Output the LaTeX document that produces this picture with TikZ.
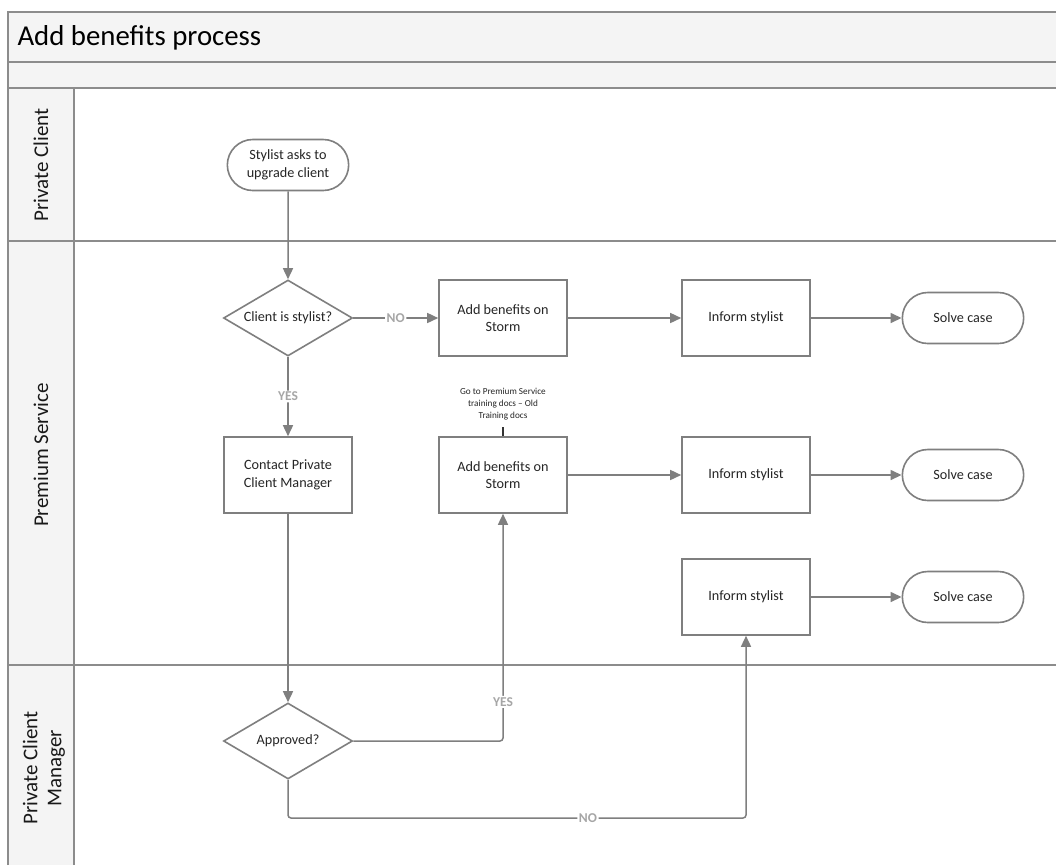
\documentclass[tikz,border=0pt]{standalone}
\usepackage{fontspec}
\setmainfont{Carlito}
\usetikzlibrary{shapes.geometric,shapes.misc,arrows.meta}
\definecolor{frame}{HTML}{8C8C8C}
\definecolor{band}{HTML}{F4F4F4}
\definecolor{flow}{HTML}{7F7F7F}
\definecolor{lbl}{HTML}{A6A6A6}
\tikzset{
  lane/.style={draw=frame,line width=1.8pt},
  boxfont/.style={font=\fontsize{14.2}{17.5}\selectfont,text=black!85},
  proc/.style={draw=flow,line width=1.6pt,fill=white,minimum width=128pt,minimum height=76pt,
    inner sep=2pt,align=center,boxfont},
  term/.style={rounded rectangle,draw=flow,line width=1.6pt,fill=white,minimum width=128pt,
    minimum height=51pt,align=center,boxfont},
  decision/.style={diamond,draw=flow,line width=1.6pt,fill=white,aspect=1.7,
    minimum width=129pt,minimum height=76pt,inner sep=0pt,align=center,boxfont},
  conn/.style={draw=flow,line width=1.5pt,-{Triangle[length=11pt,width=10pt]},rounded corners=3pt},
  tag/.style={fill=white,text=lbl,font=\bfseries\fontsize{13.5}{15}\selectfont,inner sep=1.5pt},
  lanelabel/.style={rotate=90,align=center,font=\fontsize{21}{24}\selectfont,text=black!90},
}
\begin{document}
\begin{tikzpicture}[x=1pt,y=-1pt]
\useasboundingbox (0,0) rectangle (1056,865);
\fill[white] (0,0) rectangle (1056,865);
% bands and header column
\fill[band] (8,12) rectangle (1056,88);
\fill[band] (8,88) rectangle (74,865);
\draw[lane] (8,865) -- (8,12) -- (1056,12);
\draw[lane] (8,62) -- (1056,62);
\draw[lane] (8,88) -- (1056,88);
\draw[lane] (8,241) -- (1056,241);
\draw[lane] (8,665) -- (1056,665);
\draw[lane] (74,88) -- (74,865);
\node[anchor=west,font=\fontsize{28.8}{32}\selectfont,text=black] (title) at (14,38) {Add benefits process};
\node[lanelabel] (l1) at (41,165) {Private Client};
\node[lanelabel] (l2) at (41,455) {Premium Service};
\node[lanelabel] (l3) at (44,768) {Private Client\\Manager};

% flow nodes
\node[term] (start) at (288,165) {Stylist asks to\\upgrade client};
\node[decision] (isstylist) at (288,318) {Client is stylist?};
\node[proc] (ab1) at (503,318) {Add benefits on\\Storm};
\node[proc] (inf1) at (746,318) {Inform stylist};
\node[term] (sc1) at (963,318) {Solve case};
\node[proc] (contact) at (288,475) {Contact Private\\Client Manager};
\node[proc] (ab2) at (503,475) {Add benefits on\\Storm};
\node[proc] (inf2) at (746,475) {Inform stylist};
\node[term] (sc2) at (963,475) {Solve case};
\node[proc] (inf3) at (746,597) {Inform stylist};
\node[term] (sc3) at (963,597) {Solve case};
\node[decision] (approved) at (288,741) {Approved?};
\node[align=center,font=\fontsize{9.2}{11.8}\selectfont,text=black!85] (note) at (503,404)
  {Go to Premium Service\\training docs -- Old\\Training docs};
\draw[black!80,line width=1.8pt] (ab2.north) -- ++(0,-9);

% connectors
\draw[conn] (start) -- (isstylist);
\draw[conn] (isstylist) -- node[tag] {NO} (ab1);
\draw[conn] (isstylist) -- node[tag,pos=0.5] {YES} (contact);
\draw[conn] (ab1) -- (inf1);
\draw[conn] (inf1) -- (sc1);
\draw[conn] (ab2) -- (inf2);
\draw[conn] (inf2) -- (sc2);
\draw[conn] (inf3) -- (sc3);
\draw[conn] (contact) -- (approved);
\draw[conn] (approved.east) -| node[tag,pos=0.586] {YES} (ab2.south);
\draw[conn] (approved.south) |- (588,818) node[tag] {NO} -| (inf3.south);
\end{tikzpicture}
\end{document}
